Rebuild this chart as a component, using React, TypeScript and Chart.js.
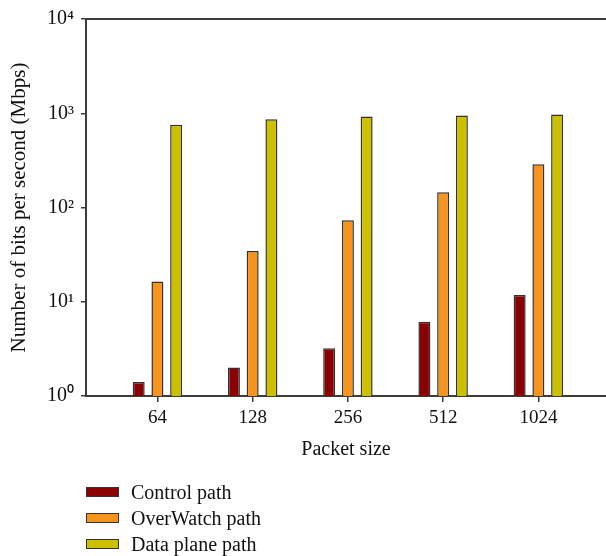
import React, { useEffect, useRef } from "react";
import { Chart, registerables } from "chart.js";

Chart.register(...registerables);

const packetSizes = ["64", "128", "256", "512", "1024"];
const controlPath = [1.41, 2.01, 3.22, 6.12, 11.8];
const overWatchPath = [16.4, 34.6, 73.2, 145, 287];
const dataPlanePath = [755, 866, 925, 948, 971];
const yTickValues = [1, 10, 100, 1000, 10000];
const yTickLabels = ["10\u2070", "10\u00B9", "10\u00B2", "10\u00B3", "10\u2074"];

const seriesNames = ["Control path", "OverWatch path", "Data plane path"];
const seriesColors = ["#8B0000", "#F7941E", "#CCC000"];
const seriesValues = [controlPath, overWatchPath, dataPlanePath];

const FONT = "'Liberation Serif', 'Times New Roman', serif";
const AXIS = "#3c3c3c";

export default function App() {
  const ref = useRef<HTMLCanvasElement | null>(null);

  useEffect(() => {
    if (!ref.current) return;
    const chart = new Chart(ref.current, {
      type: "bar",
      data: {
        datasets: seriesNames.map((name, si) => ({
          label: name,
          data: packetSizes.map((_, i) => ({ x: i + 1, y: seriesValues[si][i] })),
          backgroundColor: seriesColors[si],
          borderColor: "#333333",
          borderWidth: 1.5,
          categoryPercentage: 0.59,
          barPercentage: 0.64,
        })),
      },
      options: {
        responsive: false,
        animation: false,
        layout: { padding: { top: 19, left: 0, right: 0, bottom: 0 } },
        plugins: { legend: { display: false }, tooltip: { enabled: false } },
        scales: {
          x: {
            type: "linear",
            position: "bottom",
            offset: false,
            min: 0.25,
            max: 5.71,
            afterBuildTicks: (s: any) => {
              s.ticks = packetSizes.map((_, i) => ({ value: i + 1 }));
            },
            afterFit: (s: any) => {
              s.height = 74;
            },
            ticks: {
              autoSkip: false,
              maxRotation: 0,
              padding: 5,
              color: "#111",
              font: { family: FONT, size: 19 },
              callback: (v: any) => packetSizes[Number(v) - 1] ?? "",
            },
            grid: {
              display: true,
              offset: false,
              drawOnChartArea: false,
              drawTicks: true,
              tickLength: 6,
              color: AXIS,
              lineWidth: 1.5,
            },
            border: { display: true, color: AXIS, width: 2 },
            title: {
              display: true,
              text: "Packet size",
              color: "#111",
              font: { family: FONT, size: 20 },
              padding: { top: 0, bottom: 8 },
            },
          },
          xTop: {
            type: "linear",
            position: "top",
            offset: false,
            min: 0,
            max: 1,
            afterFit: (s: any) => {
              s.height = 0;
            },
            ticks: { display: false },
            grid: { display: false, drawTicks: false, offset: false },
            border: { display: true, color: AXIS, width: 2 },
          },
          y: {
            type: "logarithmic",
            min: 1,
            max: 10000,
            afterBuildTicks: (s: any) => {
              s.ticks = yTickValues.map((v) => ({ value: v }));
            },
            afterFit: (s: any) => {
              s.width = 86;
            },
            ticks: {
              padding: 7,
              color: "#111",
              font: { family: FONT, size: 20 },
              callback: (v: any) => {
                const idx = yTickValues.indexOf(Number(v));
                return idx >= 0 ? yTickLabels[idx] : "";
              },
            },
            grid: {
              display: true,
              drawOnChartArea: false,
              drawTicks: true,
              tickLength: 5,
              color: AXIS,
              lineWidth: 1.5,
            },
            border: { display: true, color: AXIS, width: 2 },
            title: {
              display: true,
              text: "Number of bits per second (Mbps)",
              color: "#111",
              font: { family: FONT, size: 21 },
              padding: { top: 7, bottom: 0 },
            },
          },
        },
      },
    });
    return () => chart.destroy();
  }, []);

  return (
    <div
      style={{
        position: "fixed",
        left: 0,
        top: 0,
        width: 606,
        height: 556,
        background: "#fff",
      }}
    >
      <canvas ref={ref} width={606} height={470} style={{ display: "block" }} />
      <div style={{ position: "absolute", left: 86, top: 479 }}>
        {seriesNames.map((name, i) => (
          <div
            key={name}
            style={{
              display: "flex",
              alignItems: "center",
              height: 26,
              fontFamily: FONT,
              fontSize: 20,
              color: "#111",
            }}
          >
            <span
              style={{
                display: "inline-block",
                width: 33,
                height: 10,
                boxSizing: "border-box",
                background: seriesColors[i],
                border: "1.5px solid #333",
                marginRight: 12,
              }}
            />
            <span>{name}</span>
          </div>
        ))}
      </div>
    </div>
  );
}
